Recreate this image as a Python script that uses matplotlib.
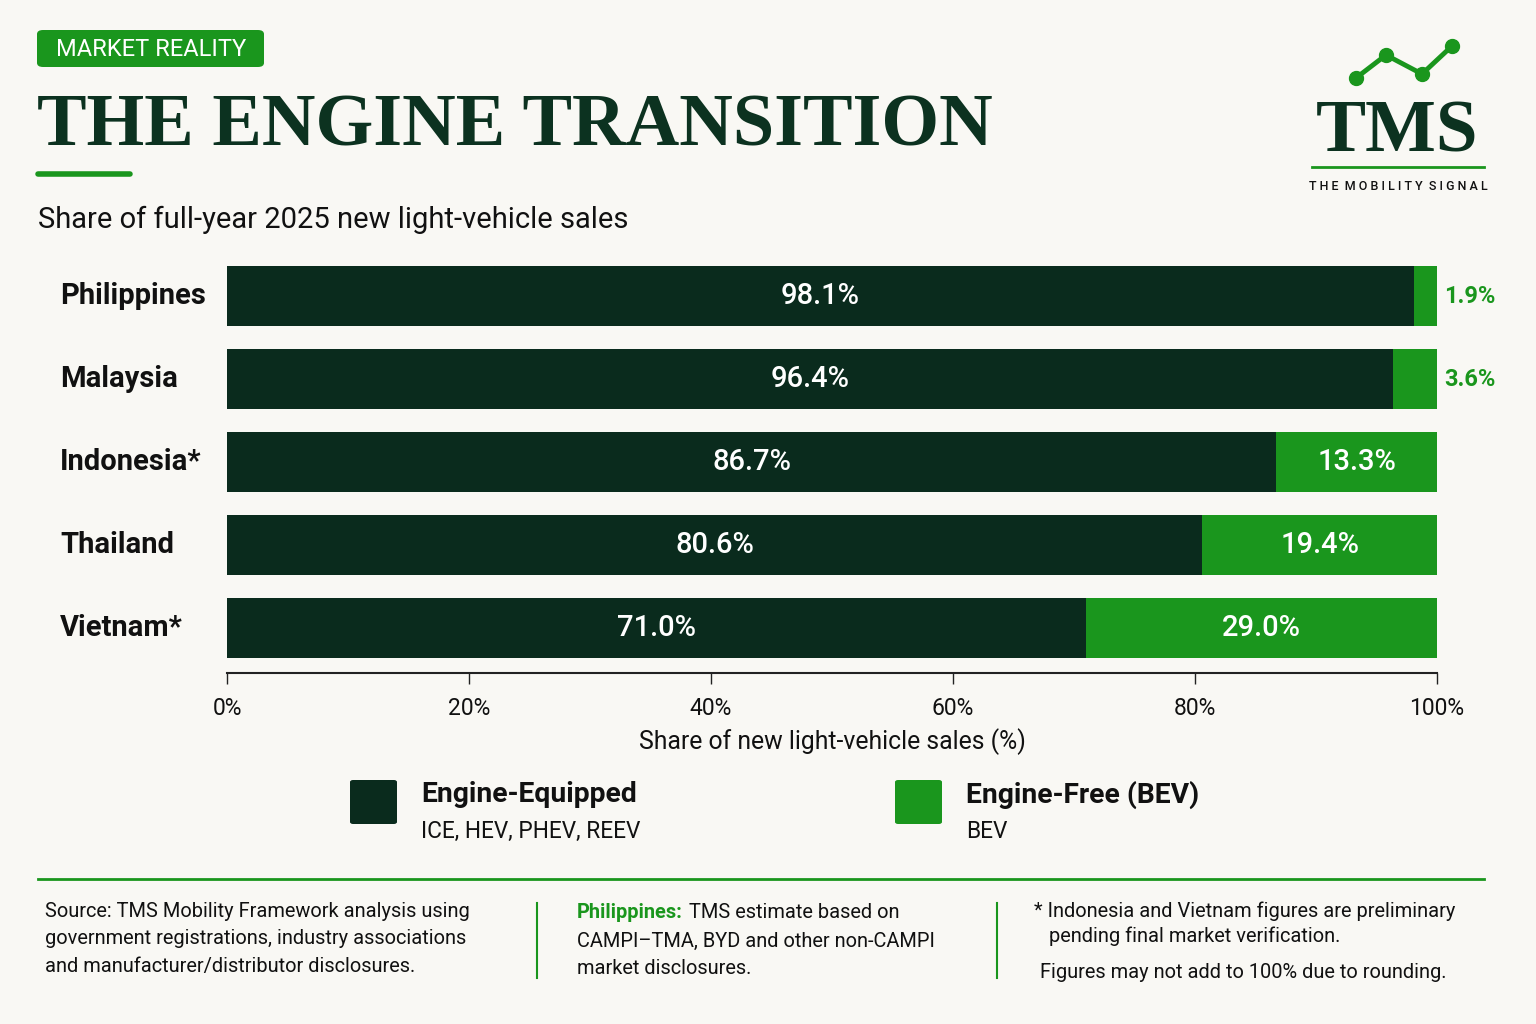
import matplotlib.pyplot as plt
from matplotlib.patches import FancyBboxPatch
from matplotlib.lines import Line2D

# Data
countries = ['Philippines', 'Malaysia', 'Indonesia*', 'Thailand', 'Vietnam*']
engine_equipped = [98.1, 96.4, 86.7, 80.6, 71.0]
engine_free = [1.9, 3.6, 13.3, 19.4, 29.0]
x_ticks = [0, 20, 40, 60, 80, 100]

DARK = '#0a2b1d'
GREEN = '#1a961d'
BG = '#f9f8f4'
TITLE = '#0c3220'
INK = '#111111'
SANS = 'Roboto'
SERIF = 'Liberation Serif'

W, H = 1536, 1024
fig = plt.figure(figsize=(W / 100, H / 100), dpi=100, facecolor=BG)


def fx(x):
    return x / W


def fy(y):
    return 1 - y / H


# Header badge
fig.add_artist(FancyBboxPatch((fx(37), fy(67)), fx(264) - fx(37), fy(30) - fy(67),
                              boxstyle='round,pad=0,rounding_size=0.004',
                              transform=fig.transFigure, facecolor=GREEN, edgecolor='none'))
fig.text(fx(151), fy(49), 'MARKET REALITY', color='white', fontsize=17, family=SANS,
         ha='center', va='center')

fig.text(fx(37), fy(145), 'THE ENGINE TRANSITION', color=TITLE, fontsize=53.5,
         family=SERIF, fontweight='bold', ha='left', va='baseline')
fig.add_artist(Line2D([fx(38), fx(130)], [fy(174), fy(174)], color=GREEN, lw=4,
                      solid_capstyle='round', transform=fig.transFigure))
fig.text(fx(38), fy(220), 'Share of full-year 2025 new light-vehicle sales', color=INK,
         fontsize=21, family=SANS, ha='left', va='center')

# Logo
fig.add_artist(Line2D([fx(1356), fx(1386), fx(1422), fx(1452)], [fy(78), fy(55), fy(74), fy(46)],
                      color=GREEN, lw=3.5, marker='o', markersize=10, transform=fig.transFigure))
fig.text(fx(1397), fy(152), 'TMS', color=TITLE, fontsize=54, family=SERIF, fontweight='bold',
         ha='center', va='baseline')
fig.add_artist(Line2D([fx(1312), fx(1484)], [fy(167), fy(167)], color=GREEN, lw=2,
                      transform=fig.transFigure))
fig.text(fx(1398), fy(186), 'T H E  M O B I L I T Y  S I G N A L',
         color=INK, fontsize=9, family=SANS, fontweight='medium', ha='center', va='center')

# Chart
ax = fig.add_axes([fx(227), fy(673), fx(1437) - fx(227), fy(254.5) - fy(673)])
ax.set_facecolor(BG)
ypos = list(range(len(countries)))
ax.barh(ypos, engine_equipped, height=0.72, color=DARK)
ax.barh(ypos, engine_free, left=engine_equipped, height=0.72, color=GREEN)
for i in ypos:
    ax.text(engine_equipped[i] / 2, i, f'{engine_equipped[i]:.1f}%', color='white',
            fontsize=21, family=SANS, fontweight='medium', ha='center', va='center')
    if engine_free[i] >= 5:
        ax.text(engine_equipped[i] + engine_free[i] / 2, i, f'{engine_free[i]:.1f}%',
                color='white', fontsize=21, family=SANS, fontweight='medium',
                ha='center', va='center')
    else:
        # segment too narrow for its label: put it just past the bar end
        ax.text(100.6, i, f'{engine_free[i]:.1f}%', color=GREEN, fontsize=17, family=SANS,
                fontweight='bold', ha='left', va='center', clip_on=False)
    ax.text(-0.138, i, countries[i], transform=ax.get_yaxis_transform(), fontsize=21,
            family=SANS, fontweight='bold', color=INK, ha='left', va='center')
ax.set_xlim(0, 100)
ax.set_ylim(4.54, -0.5)
ax.set_yticks([])
ax.set_xticks(x_ticks)
ax.set_xticklabels([f'{t}%' for t in x_ticks], fontsize=16.5, family=SANS, color=INK)
ax.tick_params(axis='x', length=8, width=1, color='#222222', pad=9)
ax.set_xlabel('Share of new light-vehicle sales (%)', fontsize=17.8, family=SANS,
              color=INK, labelpad=6)
for s in ['top', 'right', 'left']:
    ax.spines[s].set_visible(False)
ax.spines['bottom'].set_color('#222222')
ax.spines['bottom'].set_linewidth(1.5)

# Legend
legend_items = [('Engine-Equipped', 'ICE, HEV, PHEV, REEV', DARK, 350),
                ('Engine-Free (BEV)', 'BEV', GREEN, 895)]
for name, sub, col, x0 in legend_items:
    fig.add_artist(FancyBboxPatch((fx(x0), fy(824)), fx(47), fy(780) - fy(824),
                                  boxstyle='round,pad=0,rounding_size=0.002',
                                  transform=fig.transFigure, facecolor=col, edgecolor='none'))
    fig.text(fx(x0 + 71), fy(795), name, color=INK, fontsize=20.3, family=SANS,
             fontweight='bold', ha='left', va='center')
    fig.text(fx(x0 + 71), fy(831), sub, color=INK, fontsize=16.3, family=SANS,
             ha='left', va='center')

# Footer
fig.add_artist(Line2D([fx(38), fx(1484)], [fy(879), fy(879)], color=GREEN, lw=2,
                      transform=fig.transFigure))
for xs in [537, 997]:
    fig.add_artist(Line2D([fx(xs), fx(xs)], [fy(903), fy(978)], color=GREEN, lw=1.5,
                          transform=fig.transFigure))
fs = 14.4
fig.text(fx(45), fy(939), 'Source: TMS Mobility Framework analysis using\n'
         'government registrations, industry associations\n'
         'and manufacturer/distributor disclosures.', color=INK, fontsize=fs,
         family=SANS, ha='left', va='center', linespacing=1.55)
ph = fig.text(fx(577), fy(913), 'Philippines:', color=GREEN, fontsize=fs, family=SANS,
              fontweight='bold', ha='left', va='center')
fig.canvas.draw()
ph_end = ph.get_window_extent().x1
fig.text(ph_end / W + fx(6), fy(913), 'TMS estimate based on', color=INK, fontsize=fs,
         family=SANS, ha='left', va='center')
fig.text(fx(577), fy(955), 'CAMPI–TMA, BYD and other non-CAMPI\nmarket disclosures.',
         color=INK, fontsize=fs, family=SANS, ha='left', va='center', linespacing=1.5)
fig.text(fx(1034), fy(924), '* Indonesia and Vietnam figures are preliminary\n'
         '   pending final market verification.', color=INK, fontsize=fs,
         family=SANS, ha='left', va='center', linespacing=1.35)
fig.text(fx(1040), fy(972), 'Figures may not add to 100% due to rounding.', color=INK,
         fontsize=fs, family=SANS, ha='left', va='center')

fig.savefig('out.png', dpi=100, facecolor=BG)
